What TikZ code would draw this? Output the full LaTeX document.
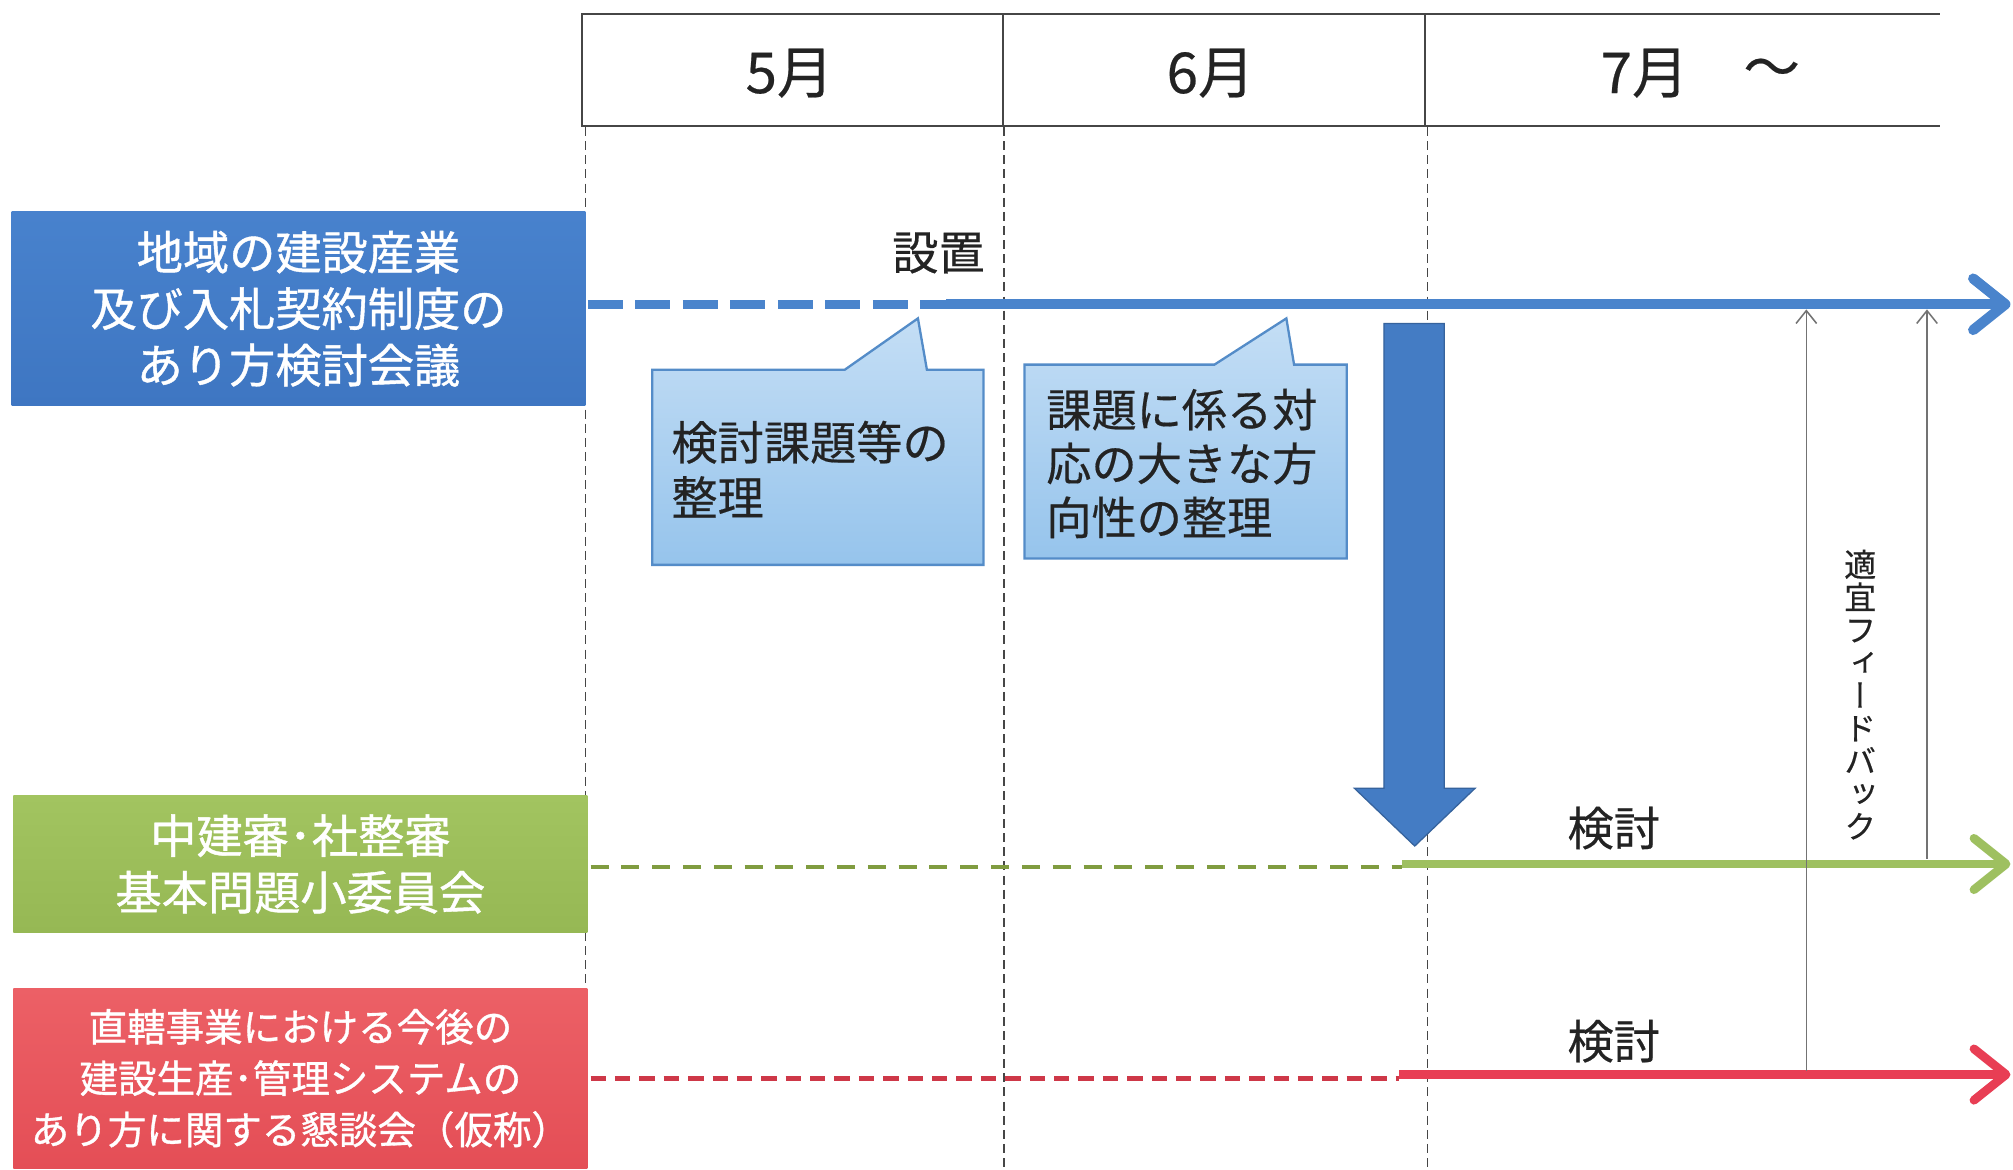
\documentclass[tikz,border=0pt]{standalone}
\usepackage{fontspec}
\setmainfont{Noto Sans CJK JP}[FakeBold=0.4]
\newfontfamily\jpb{Noto Sans CJK JP}[FakeBold=0.9]
\newfontfamily\vjp{Noto Sans CJK JP}[RawFeature=+vert, FakeBold=0.4]
\usetikzlibrary{arrows.meta}
\definecolor{boxblue}{RGB}{62,118,194}
\definecolor{boxblueT}{RGB}{72,130,205}
\definecolor{boxgreen}{RGB}{150,184,84}
\definecolor{boxgreenT}{RGB}{162,196,96}
\definecolor{boxred}{RGB}{228,78,86}
\definecolor{boxredT}{RGB}{236,96,102}
\definecolor{lineblue}{RGB}{74,132,204}
\definecolor{linegreen}{RGB}{158,192,96}
\definecolor{dashgreen}{RGB}{128,156,64}
\definecolor{linered}{RGB}{232,62,84}
\definecolor{dashred}{RGB}{206,56,72}
\definecolor{calloutT}{RGB}{196,222,245}
\definecolor{calloutB}{RGB}{150,196,236}
\definecolor{calloutD}{RGB}{84,140,200}
\definecolor{arrowblue}{RGB}{68,124,196}
\definecolor{gridgray}{RGB}{70,70,70}
\definecolor{txtgray}{RGB}{35,35,35}
\begin{document}
\begin{tikzpicture}[x=0.5pt,y=-0.5pt,
  every node/.style={inner sep=0pt, outer sep=0pt},
  orgbox/.style={minimum width=223.5pt, text=white, align=center},
  bigfont/.style={font=\jpb\fontsize{18pt}{22pt}\selectfont},
  smallfont/.style={font=\jpb\fontsize{15pt}{20pt}\selectfont},
  monthtext/.style={text=txtgray, font=\fontsize{22pt}{26pt}\selectfont},
  labeltext/.style={text=txtgray, font=\fontsize{18pt}{22pt}\selectfont},
  callouttext/.style={text=txtgray, align=left, anchor=west, font=\fontsize{18pt}{21.5pt}\selectfont},
  headline/.style={draw=gridgray, line width=0.8pt},
  gridline/.style={draw=gridgray, line width=0.6pt, dash pattern=on 3.5pt off 2pt},
  callout/.style={top color=calloutT, bottom color=calloutB, draw=calloutD, line width=0.9pt},
  bigarrow/.style={fill=arrowblue, draw=arrowblue!80!black, line width=0.5pt},
  chevron/.style={-{Straight Barb[length=12.5pt,width=20pt,round]}},
  fbarrow/.style={draw=gray!90!black, line width=0.6pt, -{Straight Barb[length=5pt,width=8pt]}}
]
\useasboundingbox[fill=white] (0,0) rectangle (1568,911);

% header
\draw[headline] (1511,11) -- (453,11) -- (453,98) -- (1511,98);
\draw[headline] (781,11) -- (781,98);
\draw[headline] (1110,11) -- (1110,98);
\node[monthtext] (m5) at (615,57) {5月};
\node[monthtext] (m6) at (943,57) {6月};
\node[monthtext] (m7) at (1281,57) {7月};
\node[monthtext] (m7b) at (1380,57) {～};

% vertical dashed grid lines
\draw[gridline] (456,99) -- (456,911);
\draw[gridline] (782,99) -- (782,911);
\draw[gridline] (1112,99) -- (1112,911);

% left boxes
\node[orgbox, bigfont, minimum height=75.5pt, top color=boxblueT, bottom color=boxblue] (kaigi) at (232.5,240.5)
  {地域の建設産業\\及び入札契約制度の\\あり方検討会議};
\node[orgbox, bigfont, minimum height=53pt, top color=boxgreenT, bottom color=boxgreen] (iinkai) at (234,673)
  {中建審･社整審\\基本問題小委員会};
\node[orgbox, smallfont, minimum height=70pt, top color=boxredT, bottom color=boxred] (kondan) at (234,840)
  {直轄事業における今後の\\建設生産･管理システムの\\あり方に関する懇談会（仮称）};

% coordinates for the timelines
\coordinate (b0) at (458,237);
\coordinate (b1) at (737,237);
\coordinate (b2) at (1566,237);
\coordinate (g0) at (460,675);
\coordinate (g1) at (1092,675);
\coordinate (g1s) at (1092,673);
\coordinate (g2) at (1566,673);
\coordinate (r0) at (460,840);
\coordinate (r1) at (1090,840);
\coordinate (r1s) at (1090,837);
\coordinate (r2) at (1566,837);

% blue timeline
\draw[draw=lineblue, line width=3.3pt, dash pattern=on 13.5pt off 5pt] (b0) -- (b1);
\draw[draw=lineblue, line width=4pt, chevron] (b1) -- (b2);
\node[labeltext] (setchi) at (731,197) {設置};

% green timeline
\draw[draw=dashgreen, line width=1.6pt, dash pattern=on 7pt off 5pt] (g0) -- (g1);
\draw[draw=linegreen, line width=3.4pt, chevron] (g1s) -- (g2);
\node[labeltext] (kento1) at (1257,645) {検討};

% red timeline
\draw[draw=dashred, line width=1.7pt, dash pattern=on 6pt off 3.5pt] (r0) -- (r1);
\draw[draw=linered, line width=3.4pt, chevron] (r1s) -- (r2);
\node[labeltext] (kento2) at (1257,811) {検討};

% callouts
\draw[callout] (508,288) -- (658,288) -- (715,248) -- (722,288) -- (766,288) -- (766,440) -- (508,440) -- cycle;
\node[callouttext] (c1) at (523,365.5) {検討課題等の\\整理};
\draw[callout] (798,284) -- (946,284) -- (1002,248) -- (1008,284) -- (1049,284) -- (1049,435) -- (798,435) -- cycle;
\node[callouttext, font=\fontsize{17.6pt}{21pt}\selectfont] (c2) at (815,361) {課題に係る対\\応の大きな方\\向性の整理};

% big down arrow
\draw[bigarrow] (1078,252) -- (1125,252) -- (1125,614) -- (1149,614) -- (1102,659) -- (1055,614) -- (1078,614) -- cycle;

% feedback arrows
\coordinate (f1s) at (1407,834);
\coordinate (f1e) at (1407,241);
\coordinate (f2s) at (1501,669);
\coordinate (f2e) at (1501,241);
\draw[fbarrow] (f1s) -- (f1e);
\draw[fbarrow] (f2s) -- (f2e);
\node[text=txtgray, align=center, font=\vjp\fontsize{12.5pt}{12.75pt}\selectfont] (fb) at (1449,541)
  {適\\宜\\フ\\ィ\\ー\\ド\\バ\\ッ\\ク};
\end{tikzpicture}
\end{document}
